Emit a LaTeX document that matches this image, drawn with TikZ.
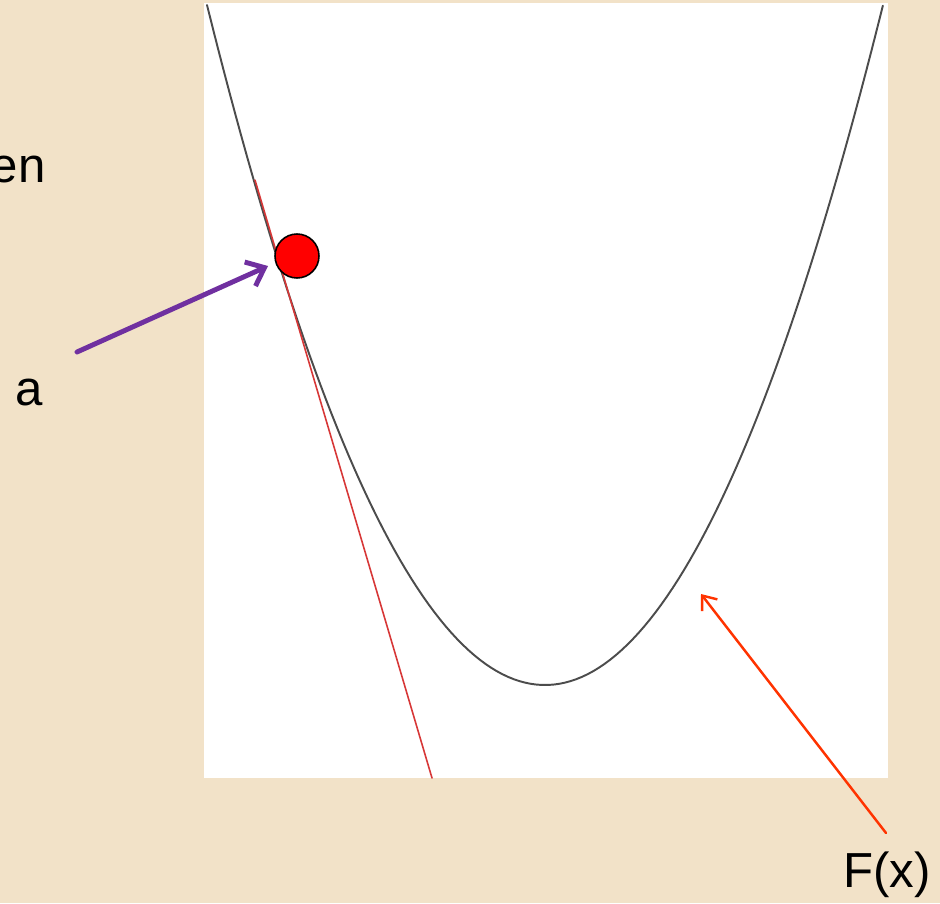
\documentclass[tikz,border=0pt]{standalone}
\usepackage{fontspec}
\setmainfont{Liberation Sans}
\usetikzlibrary{arrows.meta}
\begin{document}
\begin{tikzpicture}[x=0.02cm, y=-0.02cm, line cap=round, line join=round,
    lbl/.style={font=\fontsize{28}{34}\selectfont, inner sep=0pt}]
  \definecolor{paper}{RGB}{242,226,200}
  \definecolor{tanred}{RGB}{215,55,55}
  \definecolor{ptrpurple}{RGB}{112,48,160}
  \definecolor{ptrorange}{RGB}{255,51,0}
  % background and plot area
  \fill[paper] (0,0) rectangle (940,903);
  \useasboundingbox (0,0) rectangle (940,903);
  \fill[white] (204,3) rectangle (888,778);
  \draw[black!70, line width=1.1pt, domain=-3.38:3.38, samples=120]
    plot ({545+100*\x},{685-59.52*\x*\x});
  \draw[tanred, line width=0.9pt] (255,180)--(432,778);
  \node[circle, draw=black, fill=red, minimum size=0.88cm, inner sep=0pt,
    line width=0.9pt] (ball) at (297,256) {};
  % labels
  \node[lbl, anchor=east] (word) at (46,170) {en};
  \node[lbl] (alab) at (29,392) {a};
  \node[lbl] (flab) at (887,875) {F(x)};
  % pointers
  \coordinate (ptail) at (77,352);
  \coordinate (phead) at (268,266);
  \coordinate (otail) at (886,833);
  \coordinate (ohead) at (701,594);
  \draw[ptrpurple, line width=2.8pt, -{Straight Barb[length=9pt,width=15pt]}]
    (ptail)--(phead);
  \draw[ptrorange, line width=1.4pt, -{Straight Barb[length=7pt,width=11pt]}]
    (otail)--(ohead);
\end{tikzpicture}
\end{document}
